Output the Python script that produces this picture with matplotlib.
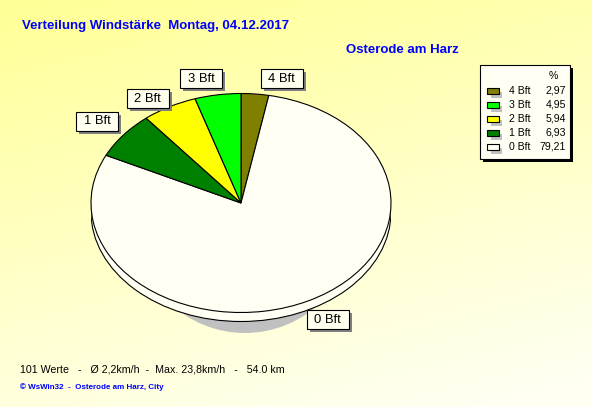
import numpy as np
import matplotlib
matplotlib.use('Agg')
import matplotlib.pyplot as plt
from matplotlib.patches import Rectangle, Ellipse

# ---------------- data ----------------
labels = ['4 Bft', '3 Bft', '2 Bft', '1 Bft', '0 Bft']
percents = [2.97, 4.95, 5.94, 6.93, 79.21]
percent_text = ['2,97', '4,95', '5,94', '6,93', '79,21']
colors = ['#808000', '#00FF00', '#FFFF00', '#008000', '#FFFFF4']
pie_order = [0, 4, 3, 2, 1]          # clockwise from 12 o'clock

title = 'Verteilung Windstärke  Montag, 04.12.2017'
station = 'Osterode am Harz'
summary = '101 Werte   -   Ø 2,2km/h  -  Max. 23,8km/h   -   54.0 km'
credit = '© WsWin32  -  Osterode am Harz, City'

# ---------------- layout (pixels) ----------------
W, H, DPI = 592, 407, 100
cx, cy, rx, ry, depth = 241, 203, 150, 109.5, 9
ax_bottom_px = 345
label_pos = {'1 Bft': (97, 121), '2 Bft': (147.5, 98.5), '3 Bft': (201, 78.5),
             '4 Bft': (281.5, 78.5), '0 Bft': (327.5, 319.5)}
FONT = 'Liberation Sans'
BLUE = '#0000FF'

fig = plt.figure(figsize=(W / DPI, H / DPI), dpi=DPI)

# background gradient
bg = fig.add_axes([0, 0, 1, 1])
bg.set_xlim(0, W); bg.set_ylim(H, 0); bg.axis('off')
yy, xx = np.mgrid[0:1:200j, 0:1:300j]
t = np.clip(0.78 * yy + 0.28 * xx, 0, 1)
top = np.array([255, 255, 150]) / 255
bot = np.array([255, 255, 242]) / 255
img = top[None, None, :] * (1 - t[..., None]) + bot[None, None, :] * t[..., None]
bg.imshow(img, extent=(0, W, H, 0), aspect='auto', zorder=0, interpolation='bilinear')

# pie axes
pax = fig.add_axes([(cx - rx) / W, (H - ax_bottom_px) / H, 2 * rx / W,
                    (ax_bottom_px - (cy - ry)) / H])
ymin = 1 - (ax_bottom_px - (cy - ry)) / ry
d = depth / ry

shadow = Ellipse((4 / rx, -(222 - cy) / ry), 2 * 110 / rx, 2 * 111 / ry,
                 facecolor='#C0C0C0', edgecolor='none', zorder=0)
pax.add_patch(shadow)
side = Ellipse((0, -d), 2, 2, facecolor=colors[4], edgecolor='black', lw=0.8, zorder=1)
pax.add_patch(side)
pax.add_patch(Rectangle((-1, -d), 2, d, facecolor=colors[4], edgecolor='none', zorder=1.5))
pax.plot([-1, -1], [-d, 0], color='black', lw=0.8, zorder=1.6)
pax.plot([1, 1], [-d, 0], color='black', lw=0.8, zorder=1.6)

wedges, _ = pax.pie([percents[i] for i in pie_order],
                    colors=[colors[i] for i in pie_order],
                    startangle=90, counterclock=False, radius=1, center=(0, 0),
                    wedgeprops=dict(edgecolor='black', linewidth=0.8))
for w in wedges:
    w.set_zorder(2)
pax.set_xlim(-1, 1)
pax.set_ylim(ymin, 1)
pax.set_aspect('auto')
pax.axis('off')

# overlay for labels, legend, texts
ov = fig.add_axes([0, 0, 1, 1])
ov.set_xlim(0, W); ov.set_ylim(H, 0); ov.axis('off')
ov.patch.set_alpha(0)

bw, bh = 42, 19
for lab in labels:
    x, y = label_pos[lab]
    ov.add_patch(Rectangle((x - bw / 2 + 3, y - bh / 2 + 3), bw, bh,
                           facecolor='#808080', edgecolor='none'))
    ov.add_patch(Rectangle((x - bw / 2, y - bh / 2), bw, bh,
                           facecolor='#FFFFF0', edgecolor='black', lw=0.8))
    ov.text(x, y + 0.5, lab, ha='center', va='center', fontsize=9.4, family=FONT)

# legend
lx, ly, lw_, lh = 480, 65, 90, 94
ov.add_patch(Rectangle((lx + 3, ly + 3), lw_, lh, facecolor='black', edgecolor='none'))
ov.add_patch(Rectangle((lx, ly), lw_, lh, facecolor='#FFFFF4', edgecolor='black', lw=0.8))
ov.text(553, 79, '%', ha='center', va='baseline', fontsize=7.6, family=FONT)
for i, lab in enumerate(labels):
    yb = 93.5 + 14 * i
    ov.add_patch(Rectangle((487 + 3.5, yb - 5.5 + 3.5), 11.5, 6,
                           facecolor='#C0C0C0', edgecolor='none'))
    ov.add_patch(Rectangle((487, yb - 5.5), 11.5, 6,
                           facecolor=colors[i], edgecolor='black', lw=0.8))
    ov.text(509, yb, lab, ha='left', va='baseline', fontsize=7.6, family=FONT)
    ov.text(566, yb, percent_text[i], ha='right', va='baseline', fontsize=7.6, family=FONT)

# texts
ov.text(22, 29, title, ha='left', va='baseline', fontsize=9.5, fontweight='bold',
        color=BLUE, family=FONT)
ov.text(346, 53, station, ha='left', va='baseline', fontsize=9.5, fontweight='bold',
        color=BLUE, family=FONT)
ov.text(20, 372.7, summary, ha='left', va='baseline', fontsize=7.7, color='black', family=FONT)
ov.text(20, 389, credit, ha='left', va='baseline', fontsize=5.8, fontweight='bold',
        color=BLUE, family=FONT)

fig.savefig('out.png', dpi=DPI)
